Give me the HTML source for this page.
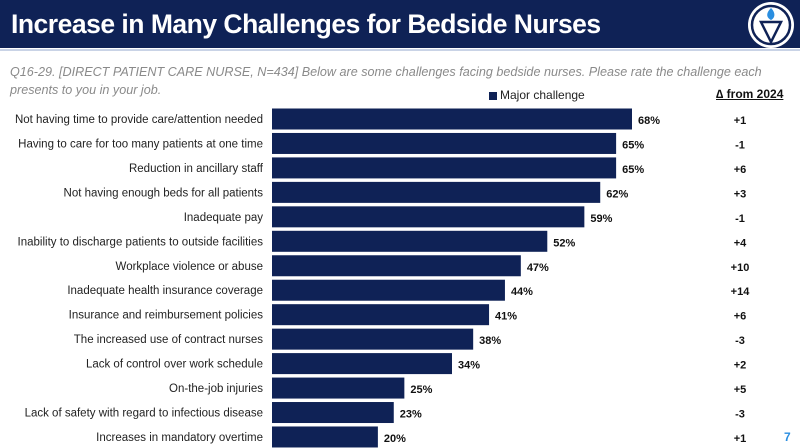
<!DOCTYPE html>
<html><head><meta charset="utf-8"><style>
body{margin:0;width:800px;height:448px;overflow:hidden;background:#fff;font-family:"Liberation Sans",sans-serif;position:relative}
.hdr{position:absolute;left:0;top:0;width:800px;height:48px;background:#0f2256}
.title{position:absolute;left:11px;top:9px;color:#fff;font-weight:bold;font-size:26.5px;letter-spacing:-0.5px}
.sub{position:absolute;left:10px;top:63px;width:790px;color:#8a8a8a;font-style:italic;font-size:12.6px;line-height:18px}
</style></head><body>
<div class="hdr"></div>
<div style="position:absolute;left:0;top:49px;width:800px;height:2px;background:#c9d3e6"></div>
<div class="title">Increase in Many Challenges for Bedside Nurses</div>
<svg style="position:absolute;left:745px;top:0" width="55" height="52">
<circle cx="26" cy="25" r="23" fill="#fff"/>
<circle cx="26" cy="25" r="19" fill="none" stroke="#0f2256" stroke-width="2.5"/>
<path d="M26 8 C20 14 22 18 26 20 C30 18 31 13 26 8Z" fill="#2a8ee0"/>
<path d="M16 22 L36 22 L26 42Z" fill="none" stroke="#0f2256" stroke-width="2.5"/>
</svg>
<div class="sub">Q16-29. [DIRECT PATIENT CARE NURSE, N=434] Below are some challenges facing bedside nurses. Please rate the challenge each presents to you in your job.</div>
<div style="position:absolute;left:489px;top:92px;width:8px;height:8px;background:#0f2256"></div>
<div style="position:absolute;left:500px;top:88px;font-size:12px;color:#222">Major challenge</div>
<div style="position:absolute;left:716px;top:87px;font-size:12px;font-weight:bold;text-decoration:underline;color:#111">∆ from 2024</div>
<div style="position:absolute;left:784px;top:430px;font-size:12px;font-weight:bold;color:#2a8ee0">7</div>
<svg id="chart" style="position:absolute;left:0;top:0" width="800" height="448"></svg>
<script>
const categories=["Not having time to provide care/attention needed","Having to care for too many patients at one time","Reduction in ancillary staff","Not having enough beds for all patients","Inadequate pay","Inability to discharge patients to outside facilities","Workplace violence or abuse","Inadequate health insurance coverage","Insurance and reimbursement policies","The increased use of contract nurses","Lack of control over work schedule","On-the-job injuries","Lack of safety with regard to infectious disease","Increases in mandatory overtime"];
const values=[68,65,65,62,59,52,47,44,41,38,34,25,23,20];
const deltas=["+1","-1","+6","+3","-1","+4","+10","+14","+6","-3","+2","+5","-3","+1"];
const svg=document.getElementById('chart');
const NS='http://www.w3.org/2000/svg';
const x0=272, pxPer=360/68;
const xs=v=>x0+v*pxPer;
const ys=i=>119+i*24.46;
function mk(t,a){const e=document.createElementNS(NS,t);for(const k in a)e.setAttribute(k,a[k]);svg.appendChild(e);return e;}
categories.forEach((c,i)=>{
 const y=ys(i);
 const r=mk('rect',{x:x0,y:y-10.5,width:xs(values[i])-x0,height:21,fill:'#0f2256'});
 
 
 const l=mk('text',{x:263,y:y+4,'text-anchor':'end','font-size':'11.5',fill:'#222','font-family':'Liberation Sans'});
 l.textContent=c;
 
 
 const v=mk('text',{x:xs(values[i])+6,y:y+5,'font-size':'11','font-weight':'bold',fill:'#111','font-family':'Liberation Sans'});
 v.textContent=values[i]+'%';
 
 
 const d=mk('text',{x:740,y:y+5,'text-anchor':'middle','font-size':'11','font-weight':'bold',fill:'#111','font-family':'Liberation Sans'});
 d.textContent=deltas[i];
 
 
});
</script>
</body></html>
